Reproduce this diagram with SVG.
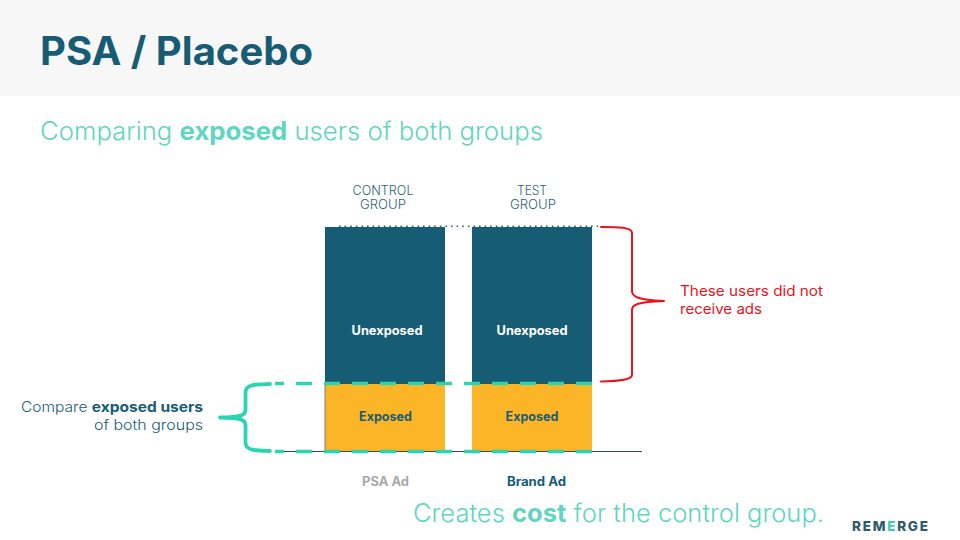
<svg xmlns="http://www.w3.org/2000/svg" width="960" height="540" viewBox="0 0 960 540">
<style>
text{font-family:"Inter","Liberation Sans",sans-serif}
.navy{fill:#165c75}
.teal{fill:#5fd6bd}
.b{font-weight:700}
.lab{font-size:12.5px;fill:#165c75;text-anchor:middle}
.bar{font-size:12.5px;font-weight:700;text-anchor:middle}
.head{font-size:12.5px;font-weight:300;fill:#2f6379;text-anchor:middle}
.side{font-size:14px;font-weight:300;fill:#165c75}
.red{font-size:14px;fill:#e8131b}
.big{font-size:25px;font-weight:300;fill:#5fd6bd}
.brace{fill:none;stroke-linecap:round;stroke-linejoin:round}
.dash{fill:none;stroke:#2dd4b2;stroke-width:3.500;stroke-dasharray:16 12;stroke-dashoffset:7}
</style>
<rect width="960" height="540" fill="#fff"/>
<rect id="header" width="960" height="96" fill="#f7f7f7"/>
<g id="title"><text x="40" y="65" font-size="39" font-weight="700" class="navy" textLength="273" lengthAdjust="spacingAndGlyphs">PSA / Placebo</text></g>
<g id="subtitle"><text x="40" y="140" class="big" textLength="503" lengthAdjust="spacingAndGlyphs">Comparing <tspan class="b">exposed</tspan> users of both groups</text></g>
<g id="control-header"><text class="head" x="383" y="195" textLength="61" lengthAdjust="spacingAndGlyphs">CONTROL</text><text class="head" x="383" y="209" textLength="46" lengthAdjust="spacingAndGlyphs">GROUP</text></g>
<g id="test-header"><text class="head" x="532" y="195" textLength="30" lengthAdjust="spacingAndGlyphs">TEST</text><text class="head" x="533" y="209" textLength="46" lengthAdjust="spacingAndGlyphs">GROUP</text></g>
<g id="control-unexposed"><rect x="325" y="227" width="120" height="157" fill="#165c75"/><text class="bar" fill="#fff" x="387" y="335" textLength="71" lengthAdjust="spacingAndGlyphs">Unexposed</text></g>
<g id="test-unexposed"><rect x="472" y="227" width="120" height="157" fill="#165c75"/><text class="bar" fill="#fff" x="532" y="335" textLength="71" lengthAdjust="spacingAndGlyphs">Unexposed</text></g>
<g id="control-exposed"><rect x="325" y="384" width="120" height="67" fill="#fdb528"/><text class="bar navy" x="385.500" y="421" textLength="53" lengthAdjust="spacingAndGlyphs">Exposed</text></g>
<g id="test-exposed"><rect x="472" y="384" width="120" height="67" fill="#fdb528"/><text class="bar navy" x="532" y="421" textLength="53" lengthAdjust="spacingAndGlyphs">Exposed</text></g>
<g id="connectors">
<path d="M339 226.200H598" fill="none" stroke="#3d5f6d" stroke-width="1.600" stroke-dasharray="1.600 4"/>
<path d="M282 451.500H642" fill="none" stroke="#2f4f5c" stroke-width="1"/>
<path d="M325 384V451" fill="none" stroke="#52707c" stroke-width="0.800"/>
<path class="dash" d="M275 383.500H592"/>
<path class="dash" d="M275 451.500H592"/>
<path class="brace" d="M270 384C256 384.500 246 384 245.500 392V410C245.500 415 241 417.500 220 417.500C241 417.500 245.500 420 245.500 425V443C246 451 256 450.500 270 451" stroke="#2dd4b2" stroke-width="3.800"/>
<path class="brace" d="M601 227C618 227 632 227 632 233V291C632 296 636 300 664 301C636 302 632 305 632 310V375C632 380 618 381 601 381.500" stroke="#e8131b" stroke-width="2"/>
</g>
<g id="side-label"><text class="side" x="203" y="412" text-anchor="end" textLength="182" lengthAdjust="spacingAndGlyphs">Compare <tspan class="b">exposed users</tspan></text><text class="side" x="203" y="430" text-anchor="end" textLength="109" lengthAdjust="spacingAndGlyphs">of both groups</text></g>
<g id="red-label"><text class="red" x="680" y="296" textLength="143" lengthAdjust="spacingAndGlyphs">These users did not</text><text class="red" x="680" y="314" textLength="82" lengthAdjust="spacingAndGlyphs">receive ads</text></g>
<g id="psa-ad"><text class="lab b" style="fill:#a8a8a8" x="385.500" y="486" textLength="47" lengthAdjust="spacingAndGlyphs">PSA Ad</text></g>
<g id="brand-ad"><text class="lab b" x="536.500" y="486" textLength="59" lengthAdjust="spacingAndGlyphs">Brand Ad</text></g>
<g id="footer-note"><text class="big" x="413" y="522" textLength="411" lengthAdjust="spacingAndGlyphs">Creates <tspan class="b">cost</tspan> for the control group.</text></g>
<g id="logo"><text x="852" y="531" font-size="13.500" font-weight="800" fill="#2f5a6b" textLength="76" lengthAdjust="spacing">REM<tspan fill="#3fcfb0">E</tspan>RGE</text></g>
</svg>
